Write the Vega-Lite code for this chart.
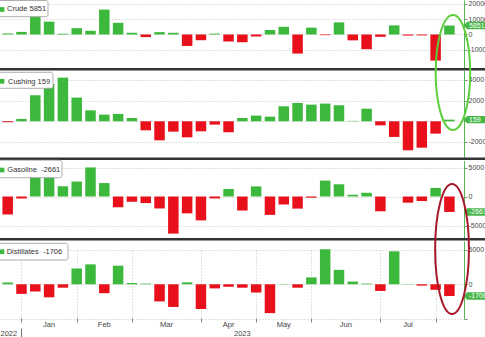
{
  "$schema": "https://vega.github.io/schema/vega-lite/v6.json",
  "width": 464,
  "height": 318,
  "autosize": {"type": "none"},
  "padding": {"left": 0, "top": 0, "right": 21, "bottom": 19},
  "background": "white",
  "config": {
    "font": "Liberation Sans",
    "view": {"stroke": null}
  },
  "datasets": {
    "eia": [
      {"week": "2022-12-23", "crude": 718, "cushing": -100, "gasoline": -3100, "distillates": 250},
      {"week": "2022-12-30", "crude": 1694, "cushing": 230, "gasoline": -346, "distillates": -1400},
      {"week": "2023-01-06", "crude": 18961, "cushing": 2510, "gasoline": 4114, "distillates": -1069},
      {"week": "2023-01-13", "crude": 8408, "cushing": 3600, "gasoline": 3483, "distillates": -1900},
      {"week": "2023-01-20", "crude": 533, "cushing": 4220, "gasoline": 1763, "distillates": -500},
      {"week": "2023-01-27", "crude": 4140, "cushing": 2290, "gasoline": 2576, "distillates": 2300},
      {"week": "2023-02-03", "crude": 2423, "cushing": 1060, "gasoline": 5008, "distillates": 2900},
      {"week": "2023-02-10", "crude": 16283, "cushing": 645, "gasoline": 2316, "distillates": -1300},
      {"week": "2023-02-17", "crude": 7648, "cushing": 710, "gasoline": -1856, "distillates": 2700},
      {"week": "2023-02-24", "crude": 1166, "cushing": 320, "gasoline": -913, "distillates": 180},
      {"week": "2023-03-03", "crude": -1694, "cushing": -870, "gasoline": -1134, "distillates": 100},
      {"week": "2023-03-10", "crude": 1550, "cushing": -1840, "gasoline": -2061, "distillates": -2500},
      {"week": "2023-03-17", "crude": 1117, "cushing": -1000, "gasoline": -6399, "distillates": -3300},
      {"week": "2023-03-24", "crude": -7489, "cushing": -1550, "gasoline": -2904, "distillates": 281},
      {"week": "2023-03-31", "crude": -3739, "cushing": -970, "gasoline": -4119, "distillates": -3600},
      {"week": "2023-04-07", "crude": 597, "cushing": -320, "gasoline": -330, "distillates": -600},
      {"week": "2023-04-14", "crude": -4581, "cushing": -1060, "gasoline": 1299, "distillates": -360},
      {"week": "2023-04-21", "crude": -5054, "cushing": 320, "gasoline": -2421, "distillates": -500},
      {"week": "2023-04-28", "crude": -1280, "cushing": 550, "gasoline": 1741, "distillates": -1200},
      {"week": "2023-05-05", "crude": 2951, "cushing": 450, "gasoline": -3168, "distillates": -4200},
      {"week": "2023-05-12", "crude": 5040, "cushing": 1450, "gasoline": -1381, "distillates": 40},
      {"week": "2023-05-19", "crude": -12456, "cushing": 1770, "gasoline": -2087, "distillates": -500},
      {"week": "2023-05-26", "crude": 4489, "cushing": 1610, "gasoline": -207, "distillates": 1000},
      {"week": "2023-06-02", "crude": -451, "cushing": 1710, "gasoline": 2745, "distillates": 5100},
      {"week": "2023-06-09", "crude": 7919, "cushing": 1550, "gasoline": 2108, "distillates": 2100},
      {"week": "2023-06-16", "crude": -3831, "cushing": 40, "gasoline": 305, "distillates": 400},
      {"week": "2023-06-23", "crude": -9603, "cushing": 1220, "gasoline": 644, "distillates": 100},
      {"week": "2023-06-30", "crude": -1508, "cushing": -390, "gasoline": -2546, "distillates": -970},
      {"week": "2023-07-07", "crude": 5946, "cushing": -1510, "gasoline": -3, "distillates": 4800},
      {"week": "2023-07-14", "crude": -708, "cushing": -2800, "gasoline": -1066, "distillates": 50},
      {"week": "2023-07-21", "crude": -600, "cushing": -2550, "gasoline": -786, "distillates": -200},
      {"week": "2023-07-28", "crude": -17049, "cushing": -1190, "gasoline": 1480, "distillates": -800},
      {"week": "2023-08-04", "crude": 5851, "cushing": 159, "gasoline": -2661, "distillates": -1706}
    ]
  },
  "data": {"name": "eia"},
  "layer": [
    {
      "layer": [
        {
          "mark": {"type": "bar", "width": 10.5},
          "encoding": {
            "x": {"field": "week", "type": "temporal", "scale": {"domain": [{"year": 2022, "month": 12, "date": 19, "hours": 2, "minutes": 24, "utc": true}, {"year": 2023, "month": 8, "date": 11, "hours": 9, "minutes": 36, "utc": true}], "nice": false, "padding": 0}},
            "y": {"field": "crude", "type": "quantitative", "scale": {"domain": [-21900, 22550], "range": [68, 0], "nice": false},
              "axis": {"title": null, "orient": "right", "values": [20000, 10000, 0, -10000], "labelExpr": "'' + datum.value", "grid": true, "gridColor": "#c4c4c4", "gridDash": [1, 2], "domainColor": "#55b855", "tickColor": "#888888", "tickSize": 3, "labelPadding": 1, "labelFontSize": 7, "labelColor": "#444444"}},
            "y2": {"datum": 0},
            "color": {"condition": {"test": "datum.crude < 0", "value": "#e8101a"}, "value": "#3cb83c"}
          }
        },
        {
          "transform": [{"filter": "time(toDate(datum.week)) > time(datetime(2023, 6, 31))"}],
          "mark": {"type": "rule", "color": "#333333", "strokeWidth": 2.5},
          "encoding": {
            "x": {"datum": {"year": 2022, "month": 12, "date": 19, "hours": 2, "minutes": 24, "utc": true}, "type": "temporal", "scale": {"domain": [{"year": 2022, "month": 12, "date": 19, "hours": 2, "minutes": 24, "utc": true}, {"year": 2023, "month": 8, "date": 11, "hours": 9, "minutes": 36, "utc": true}], "nice": false, "padding": 0}},
            "x2": {"datum": {"year": 2023, "month": 8, "date": 25, "utc": true}},
            "y": {"datum": -22680, "type": "quantitative", "scale": {"domain": [-21900, 22550], "range": [68, 0], "nice": false}}
          }
        },
        {
          "transform": [{"filter": "time(toDate(datum.week)) > time(datetime(2023, 6, 31))"}],
          "mark": {"type": "rect", "fill": "white", "stroke": "#9a9a9a", "strokeWidth": 0.8, "cornerRadius": 2, "xOffset": -4, "x2Offset": 48, "yOffset": 0.5, "y2Offset": 16.7},
          "encoding": {
            "x": {"datum": {"year": 2022, "month": 12, "date": 19, "hours": 2, "minutes": 24, "utc": true}, "type": "temporal", "scale": {"domain": [{"year": 2022, "month": 12, "date": 19, "hours": 2, "minutes": 24, "utc": true}, {"year": 2023, "month": 8, "date": 11, "hours": 9, "minutes": 36, "utc": true}], "nice": false, "padding": 0}},
            "x2": {"datum": {"year": 2022, "month": 12, "date": 19, "hours": 2, "minutes": 24, "utc": true}},
            "y": {"datum": 22550, "type": "quantitative", "scale": {"domain": [-21900, 22550], "range": [68, 0], "nice": false}},
            "y2": {"datum": 22550}
          }
        },
        {
          "transform": [{"filter": "time(toDate(datum.week)) > time(datetime(2023, 6, 31))"}],
          "mark": {"type": "square", "size": 22, "color": "#3cb83c", "opacity": 1, "xOffset": 2, "yOffset": 9.5},
          "encoding": {
            "x": {"datum": {"year": 2022, "month": 12, "date": 19, "hours": 2, "minutes": 24, "utc": true}, "type": "temporal", "scale": {"domain": [{"year": 2022, "month": 12, "date": 19, "hours": 2, "minutes": 24, "utc": true}, {"year": 2023, "month": 8, "date": 11, "hours": 9, "minutes": 36, "utc": true}], "nice": false, "padding": 0}},
            "y": {"datum": 22550, "type": "quantitative", "scale": {"domain": [-21900, 22550], "range": [68, 0], "nice": false}}
          }
        },
        {
          "transform": [{"filter": "time(toDate(datum.week)) > time(datetime(2023, 6, 31))"}, {"calculate": "'Crude ' + datum.crude", "as": "lbl"}],
          "mark": {"type": "text", "align": "left", "baseline": "middle", "dx": 7, "dy": 9.3, "fontSize": 7.5, "color": "#333333"},
          "encoding": {
            "x": {"datum": {"year": 2022, "month": 12, "date": 19, "hours": 2, "minutes": 24, "utc": true}, "type": "temporal", "scale": {"domain": [{"year": 2022, "month": 12, "date": 19, "hours": 2, "minutes": 24, "utc": true}, {"year": 2023, "month": 8, "date": 11, "hours": 9, "minutes": 36, "utc": true}], "nice": false, "padding": 0}},
            "y": {"datum": 22550, "type": "quantitative", "scale": {"domain": [-21900, 22550], "range": [68, 0], "nice": false}},
            "text": {"field": "lbl", "type": "nominal"}
          }
        },
        {
          "transform": [{"filter": "time(toDate(datum.week)) > time(datetime(2023, 6, 31))"}],
          "mark": {"type": "point", "shape": "M0,0L0.3,-0.37L3,-0.37L3,0.37L0.3,0.37Z", "size": 400, "filled": true, "color": "#46b646", "opacity": 1},
          "encoding": {
            "x": {"datum": {"year": 2023, "month": 8, "date": 11, "hours": 9, "minutes": 36, "utc": true}, "type": "temporal", "scale": {"domain": [{"year": 2022, "month": 12, "date": 19, "hours": 2, "minutes": 24, "utc": true}, {"year": 2023, "month": 8, "date": 11, "hours": 9, "minutes": 36, "utc": true}], "nice": false, "padding": 0}},
            "y": {"field": "crude", "type": "quantitative", "scale": {"domain": [-21900, 22550], "range": [68, 0], "nice": false}}
          }
        },
        {
          "transform": [{"filter": "time(toDate(datum.week)) > time(datetime(2023, 6, 31))"}],
          "mark": {"type": "text", "align": "left", "baseline": "middle", "dx": 5, "fontSize": 7, "color": "white"},
          "encoding": {
            "x": {"datum": {"year": 2023, "month": 8, "date": 11, "hours": 9, "minutes": 36, "utc": true}, "type": "temporal", "scale": {"domain": [{"year": 2022, "month": 12, "date": 19, "hours": 2, "minutes": 24, "utc": true}, {"year": 2023, "month": 8, "date": 11, "hours": 9, "minutes": 36, "utc": true}], "nice": false, "padding": 0}},
            "y": {"field": "crude", "type": "quantitative", "scale": {"domain": [-21900, 22550], "range": [68, 0], "nice": false}},
            "text": {"field": "crude", "type": "nominal"}
          }
        }
      ]
    },
    {
      "layer": [
        {
          "mark": {"type": "bar", "width": 10.5},
          "encoding": {
            "x": {"field": "week", "type": "temporal", "scale": {"domain": [{"year": 2022, "month": 12, "date": 19, "hours": 2, "minutes": 24, "utc": true}, {"year": 2023, "month": 8, "date": 11, "hours": 9, "minutes": 36, "utc": true}], "nice": false, "padding": 0}},
            "y": {"field": "cushing", "type": "quantitative", "scale": {"domain": [-3498, 4908], "range": [157.5, 70.5], "nice": false},
              "axis": {"title": null, "orient": "right", "values": [4000, 2000, 0, -2000], "labelExpr": "datum.value == 0 ? '' : '' + datum.value", "grid": true, "gridColor": "#c4c4c4", "gridDash": [1, 2], "domainColor": "#55b855", "tickColor": "#888888", "tickSize": 3, "labelPadding": 1, "labelFontSize": 7, "labelColor": "#444444"}},
            "y2": {"datum": 0},
            "color": {"condition": {"test": "datum.cushing < 0", "value": "#e8101a"}, "value": "#3cb83c"}
          }
        },
        {
          "transform": [{"filter": "time(toDate(datum.week)) > time(datetime(2023, 6, 31))"}],
          "mark": {"type": "rule", "color": "#333333", "strokeWidth": 2.5},
          "encoding": {
            "x": {"datum": {"year": 2022, "month": 12, "date": 19, "hours": 2, "minutes": 24, "utc": true}, "type": "temporal", "scale": {"domain": [{"year": 2022, "month": 12, "date": 19, "hours": 2, "minutes": 24, "utc": true}, {"year": 2023, "month": 8, "date": 11, "hours": 9, "minutes": 36, "utc": true}], "nice": false, "padding": 0}},
            "x2": {"datum": {"year": 2023, "month": 8, "date": 25, "utc": true}},
            "y": {"datum": -3614, "type": "quantitative", "scale": {"domain": [-3498, 4908], "range": [157.5, 70.5], "nice": false}}
          }
        },
        {
          "transform": [{"filter": "time(toDate(datum.week)) > time(datetime(2023, 6, 31))"}],
          "mark": {"type": "rect", "fill": "white", "stroke": "#9a9a9a", "strokeWidth": 0.8, "cornerRadius": 2, "xOffset": -4, "x2Offset": 53, "yOffset": 1.8, "y2Offset": 17.8},
          "encoding": {
            "x": {"datum": {"year": 2022, "month": 12, "date": 19, "hours": 2, "minutes": 24, "utc": true}, "type": "temporal", "scale": {"domain": [{"year": 2022, "month": 12, "date": 19, "hours": 2, "minutes": 24, "utc": true}, {"year": 2023, "month": 8, "date": 11, "hours": 9, "minutes": 36, "utc": true}], "nice": false, "padding": 0}},
            "x2": {"datum": {"year": 2022, "month": 12, "date": 19, "hours": 2, "minutes": 24, "utc": true}},
            "y": {"datum": 4908, "type": "quantitative", "scale": {"domain": [-3498, 4908], "range": [157.5, 70.5], "nice": false}},
            "y2": {"datum": 4908}
          }
        },
        {
          "transform": [{"filter": "time(toDate(datum.week)) > time(datetime(2023, 6, 31))"}],
          "mark": {"type": "square", "size": 22, "color": "#3cb83c", "opacity": 1, "xOffset": 2, "yOffset": 10.8},
          "encoding": {
            "x": {"datum": {"year": 2022, "month": 12, "date": 19, "hours": 2, "minutes": 24, "utc": true}, "type": "temporal", "scale": {"domain": [{"year": 2022, "month": 12, "date": 19, "hours": 2, "minutes": 24, "utc": true}, {"year": 2023, "month": 8, "date": 11, "hours": 9, "minutes": 36, "utc": true}], "nice": false, "padding": 0}},
            "y": {"datum": 4908, "type": "quantitative", "scale": {"domain": [-3498, 4908], "range": [157.5, 70.5], "nice": false}}
          }
        },
        {
          "transform": [{"filter": "time(toDate(datum.week)) > time(datetime(2023, 6, 31))"}, {"calculate": "'Cushing ' + datum.cushing", "as": "lbl"}],
          "mark": {"type": "text", "align": "left", "baseline": "middle", "dx": 8, "dy": 11.2, "fontSize": 7.5, "color": "#333333"},
          "encoding": {
            "x": {"datum": {"year": 2022, "month": 12, "date": 19, "hours": 2, "minutes": 24, "utc": true}, "type": "temporal", "scale": {"domain": [{"year": 2022, "month": 12, "date": 19, "hours": 2, "minutes": 24, "utc": true}, {"year": 2023, "month": 8, "date": 11, "hours": 9, "minutes": 36, "utc": true}], "nice": false, "padding": 0}},
            "y": {"datum": 4908, "type": "quantitative", "scale": {"domain": [-3498, 4908], "range": [157.5, 70.5], "nice": false}},
            "text": {"field": "lbl", "type": "nominal"}
          }
        },
        {
          "transform": [{"filter": "time(toDate(datum.week)) > time(datetime(2023, 6, 31))"}],
          "mark": {"type": "point", "shape": "M0,0L0.3,-0.37L3,-0.37L3,0.37L0.3,0.37Z", "size": 400, "filled": true, "color": "#46b646", "opacity": 1},
          "encoding": {
            "x": {"datum": {"year": 2023, "month": 8, "date": 11, "hours": 9, "minutes": 36, "utc": true}, "type": "temporal", "scale": {"domain": [{"year": 2022, "month": 12, "date": 19, "hours": 2, "minutes": 24, "utc": true}, {"year": 2023, "month": 8, "date": 11, "hours": 9, "minutes": 36, "utc": true}], "nice": false, "padding": 0}},
            "y": {"field": "cushing", "type": "quantitative", "scale": {"domain": [-3498, 4908], "range": [157.5, 70.5], "nice": false}}
          }
        },
        {
          "transform": [{"filter": "time(toDate(datum.week)) > time(datetime(2023, 6, 31))"}],
          "mark": {"type": "text", "align": "left", "baseline": "middle", "dx": 5, "fontSize": 7, "color": "white"},
          "encoding": {
            "x": {"datum": {"year": 2023, "month": 8, "date": 11, "hours": 9, "minutes": 36, "utc": true}, "type": "temporal", "scale": {"domain": [{"year": 2022, "month": 12, "date": 19, "hours": 2, "minutes": 24, "utc": true}, {"year": 2023, "month": 8, "date": 11, "hours": 9, "minutes": 36, "utc": true}], "nice": false, "padding": 0}},
            "y": {"field": "cushing", "type": "quantitative", "scale": {"domain": [-3498, 4908], "range": [157.5, 70.5], "nice": false}},
            "text": {"field": "cushing", "type": "nominal"}
          }
        },
        {
          "transform": [{"filter": "time(toDate(datum.week)) > time(datetime(2023, 6, 31))"}],
          "mark": {"type": "point", "shape": "M0,-1C0.166,-1,0.3,-0.552,0.3,0C0.3,0.552,0.166,1,0,1C-0.166,1,-0.3,0.552,-0.3,0C-0.3,-0.552,-0.166,-1,0,-1Z", "size": 13225, "filled": false, "color": "#5ecf3c", "strokeWidth": 2, "opacity": 1},
          "encoding": {
            "x": {"datum": {"year": 2023, "month": 8, "date": 5, "hours": 19, "utc": true}, "type": "temporal", "scale": {"domain": [{"year": 2022, "month": 12, "date": 19, "hours": 2, "minutes": 24, "utc": true}, {"year": 2023, "month": 8, "date": 11, "hours": 9, "minutes": 36, "utc": true}], "nice": false, "padding": 0}},
            "y": {"datum": 4715, "type": "quantitative", "scale": {"domain": [-3498, 4908], "range": [157.5, 70.5], "nice": false}}
          }
        }
      ]
    },
    {
      "layer": [
        {
          "mark": {"type": "bar", "width": 10.5},
          "encoding": {
            "x": {"field": "week", "type": "temporal", "scale": {"domain": [{"year": 2022, "month": 12, "date": 19, "hours": 2, "minutes": 24, "utc": true}, {"year": 2023, "month": 8, "date": 11, "hours": 9, "minutes": 36, "utc": true}], "nice": false, "padding": 0}},
            "y": {"field": "gasoline", "type": "quantitative", "scale": {"domain": [-7155, 6207], "range": [238, 160.5], "nice": false},
              "axis": {"title": null, "orient": "right", "values": [5000, 0, -5000], "labelExpr": "'' + datum.value", "grid": true, "gridColor": "#c4c4c4", "gridDash": [1, 2], "domainColor": "#55b855", "tickColor": "#888888", "tickSize": 3, "labelPadding": 1, "labelFontSize": 7, "labelColor": "#444444"}},
            "y2": {"datum": 0},
            "color": {"condition": {"test": "datum.gasoline < 0", "value": "#e8101a"}, "value": "#3cb83c"}
          }
        },
        {
          "transform": [{"filter": "time(toDate(datum.week)) > time(datetime(2023, 6, 31))"}],
          "mark": {"type": "rule", "color": "#333333", "strokeWidth": 2.5},
          "encoding": {
            "x": {"datum": {"year": 2022, "month": 12, "date": 19, "hours": 2, "minutes": 24, "utc": true}, "type": "temporal", "scale": {"domain": [{"year": 2022, "month": 12, "date": 19, "hours": 2, "minutes": 24, "utc": true}, {"year": 2023, "month": 8, "date": 11, "hours": 9, "minutes": 36, "utc": true}], "nice": false, "padding": 0}},
            "x2": {"datum": {"year": 2023, "month": 8, "date": 25, "utc": true}},
            "y": {"datum": -7379, "type": "quantitative", "scale": {"domain": [-7155, 6207], "range": [238, 160.5], "nice": false}}
          }
        },
        {
          "transform": [{"filter": "time(toDate(datum.week)) > time(datetime(2023, 6, 31))"}],
          "mark": {"type": "rect", "fill": "white", "stroke": "#9a9a9a", "strokeWidth": 0.8, "cornerRadius": 2, "xOffset": -4, "x2Offset": 62, "yOffset": -0.3, "y2Offset": 17.2},
          "encoding": {
            "x": {"datum": {"year": 2022, "month": 12, "date": 19, "hours": 2, "minutes": 24, "utc": true}, "type": "temporal", "scale": {"domain": [{"year": 2022, "month": 12, "date": 19, "hours": 2, "minutes": 24, "utc": true}, {"year": 2023, "month": 8, "date": 11, "hours": 9, "minutes": 36, "utc": true}], "nice": false, "padding": 0}},
            "x2": {"datum": {"year": 2022, "month": 12, "date": 19, "hours": 2, "minutes": 24, "utc": true}},
            "y": {"datum": 6207, "type": "quantitative", "scale": {"domain": [-7155, 6207], "range": [238, 160.5], "nice": false}},
            "y2": {"datum": 6207}
          }
        },
        {
          "transform": [{"filter": "time(toDate(datum.week)) > time(datetime(2023, 6, 31))"}],
          "mark": {"type": "square", "size": 22, "color": "#3cb83c", "opacity": 1, "xOffset": 2, "yOffset": 9.5},
          "encoding": {
            "x": {"datum": {"year": 2022, "month": 12, "date": 19, "hours": 2, "minutes": 24, "utc": true}, "type": "temporal", "scale": {"domain": [{"year": 2022, "month": 12, "date": 19, "hours": 2, "minutes": 24, "utc": true}, {"year": 2023, "month": 8, "date": 11, "hours": 9, "minutes": 36, "utc": true}], "nice": false, "padding": 0}},
            "y": {"datum": 6207, "type": "quantitative", "scale": {"domain": [-7155, 6207], "range": [238, 160.5], "nice": false}}
          }
        },
        {
          "transform": [{"filter": "time(toDate(datum.week)) > time(datetime(2023, 6, 31))"}, {"calculate": "'Gasoline\u00a0 ' + datum.gasoline", "as": "lbl"}],
          "mark": {"type": "text", "align": "left", "baseline": "middle", "dx": 7.3, "dy": 9.5, "fontSize": 7.5, "color": "#333333"},
          "encoding": {
            "x": {"datum": {"year": 2022, "month": 12, "date": 19, "hours": 2, "minutes": 24, "utc": true}, "type": "temporal", "scale": {"domain": [{"year": 2022, "month": 12, "date": 19, "hours": 2, "minutes": 24, "utc": true}, {"year": 2023, "month": 8, "date": 11, "hours": 9, "minutes": 36, "utc": true}], "nice": false, "padding": 0}},
            "y": {"datum": 6207, "type": "quantitative", "scale": {"domain": [-7155, 6207], "range": [238, 160.5], "nice": false}},
            "text": {"field": "lbl", "type": "nominal"}
          }
        },
        {
          "transform": [{"filter": "time(toDate(datum.week)) > time(datetime(2023, 6, 31))"}],
          "mark": {"type": "point", "shape": "M0,0L0.3,-0.37L3,-0.37L3,0.37L0.3,0.37Z", "size": 400, "filled": true, "color": "#46b646", "opacity": 1},
          "encoding": {
            "x": {"datum": {"year": 2023, "month": 8, "date": 11, "hours": 9, "minutes": 36, "utc": true}, "type": "temporal", "scale": {"domain": [{"year": 2022, "month": 12, "date": 19, "hours": 2, "minutes": 24, "utc": true}, {"year": 2023, "month": 8, "date": 11, "hours": 9, "minutes": 36, "utc": true}], "nice": false, "padding": 0}},
            "y": {"field": "gasoline", "type": "quantitative", "scale": {"domain": [-7155, 6207], "range": [238, 160.5], "nice": false}}
          }
        },
        {
          "transform": [{"filter": "time(toDate(datum.week)) > time(datetime(2023, 6, 31))"}],
          "mark": {"type": "text", "align": "left", "baseline": "middle", "dx": 5, "fontSize": 7, "color": "white"},
          "encoding": {
            "x": {"datum": {"year": 2023, "month": 8, "date": 11, "hours": 9, "minutes": 36, "utc": true}, "type": "temporal", "scale": {"domain": [{"year": 2022, "month": 12, "date": 19, "hours": 2, "minutes": 24, "utc": true}, {"year": 2023, "month": 8, "date": 11, "hours": 9, "minutes": 36, "utc": true}], "nice": false, "padding": 0}},
            "y": {"field": "gasoline", "type": "quantitative", "scale": {"domain": [-7155, 6207], "range": [238, 160.5], "nice": false}},
            "text": {"field": "gasoline", "type": "nominal"}
          }
        }
      ]
    },
    {
      "layer": [
        {
          "mark": {"type": "bar", "width": 10.5},
          "encoding": {
            "x": {"field": "week", "type": "temporal", "scale": {"domain": [{"year": 2022, "month": 12, "date": 19, "hours": 2, "minutes": 24, "utc": true}, {"year": 2023, "month": 8, "date": 11, "hours": 9, "minutes": 36, "utc": true}], "nice": false, "padding": 0},
              "axis": {"title": null, "orient": "bottom", "domain": false, "grid": true, "gridColor": "#c4c4c4", "gridDash": [1, 2], "ticks": true, "tickSize": 4, "tickColor": "#888888", "labels": false,
                "values": [{"year": 2022, "month": 12, "date": 30, "utc": true}, {"year": 2023, "month": 1, "date": 27, "utc": true}, {"year": 2023, "month": 2, "date": 24, "utc": true}, {"year": 2023, "month": 3, "date": 31, "utc": true}, {"year": 2023, "month": 4, "date": 28, "utc": true}, {"year": 2023, "month": 5, "date": 26, "utc": true}, {"year": 2023, "month": 6, "date": 30, "utc": true}, {"year": 2023, "month": 7, "date": 28, "utc": true}]}},
            "y": {"field": "distillates", "type": "quantitative", "scale": {"domain": [-5000, 6303], "range": [318.6, 241], "nice": false},
              "axis": {"title": null, "orient": "right", "values": [5000, 0, -5000], "labelExpr": "datum.value == -5000 ? '' : '' + datum.value", "grid": true, "gridColor": "#c4c4c4", "gridDash": [1, 2], "domainColor": "#55b855", "tickColor": "#888888", "tickSize": 3, "labelPadding": 1, "labelFontSize": 7, "labelColor": "#444444"}},
            "y2": {"datum": 0},
            "color": {"condition": {"test": "datum.distillates < 0", "value": "#e8101a"}, "value": "#3cb83c"}
          }
        },
        {
          "transform": [{"filter": "time(toDate(datum.week)) > time(datetime(2023, 6, 31))"}],
          "mark": {"type": "rect", "fill": "white", "stroke": "#9a9a9a", "strokeWidth": 0.8, "cornerRadius": 2, "xOffset": -4, "x2Offset": 68, "yOffset": 2.3, "y2Offset": 19},
          "encoding": {
            "x": {"datum": {"year": 2022, "month": 12, "date": 19, "hours": 2, "minutes": 24, "utc": true}, "type": "temporal", "scale": {"domain": [{"year": 2022, "month": 12, "date": 19, "hours": 2, "minutes": 24, "utc": true}, {"year": 2023, "month": 8, "date": 11, "hours": 9, "minutes": 36, "utc": true}], "nice": false, "padding": 0}},
            "x2": {"datum": {"year": 2022, "month": 12, "date": 19, "hours": 2, "minutes": 24, "utc": true}},
            "y": {"datum": 6303, "type": "quantitative", "scale": {"domain": [-5000, 6303], "range": [318.6, 241], "nice": false}},
            "y2": {"datum": 6303}
          }
        },
        {
          "transform": [{"filter": "time(toDate(datum.week)) > time(datetime(2023, 6, 31))"}],
          "mark": {"type": "square", "size": 22, "color": "#3cb83c", "opacity": 1, "xOffset": 2, "yOffset": 10.7},
          "encoding": {
            "x": {"datum": {"year": 2022, "month": 12, "date": 19, "hours": 2, "minutes": 24, "utc": true}, "type": "temporal", "scale": {"domain": [{"year": 2022, "month": 12, "date": 19, "hours": 2, "minutes": 24, "utc": true}, {"year": 2023, "month": 8, "date": 11, "hours": 9, "minutes": 36, "utc": true}], "nice": false, "padding": 0}},
            "y": {"datum": 6303, "type": "quantitative", "scale": {"domain": [-5000, 6303], "range": [318.6, 241], "nice": false}}
          }
        },
        {
          "transform": [{"filter": "time(toDate(datum.week)) > time(datetime(2023, 6, 31))"}, {"calculate": "'Distillates\u00a0 ' + datum.distillates", "as": "lbl"}],
          "mark": {"type": "text", "align": "left", "baseline": "middle", "dx": 6.7, "dy": 10.7, "fontSize": 7.5, "color": "#333333"},
          "encoding": {
            "x": {"datum": {"year": 2022, "month": 12, "date": 19, "hours": 2, "minutes": 24, "utc": true}, "type": "temporal", "scale": {"domain": [{"year": 2022, "month": 12, "date": 19, "hours": 2, "minutes": 24, "utc": true}, {"year": 2023, "month": 8, "date": 11, "hours": 9, "minutes": 36, "utc": true}], "nice": false, "padding": 0}},
            "y": {"datum": 6303, "type": "quantitative", "scale": {"domain": [-5000, 6303], "range": [318.6, 241], "nice": false}},
            "text": {"field": "lbl", "type": "nominal"}
          }
        },
        {
          "transform": [{"filter": "time(toDate(datum.week)) > time(datetime(2023, 6, 31))"}],
          "mark": {"type": "point", "shape": "M0,0L0.3,-0.37L3,-0.37L3,0.37L0.3,0.37Z", "size": 400, "filled": true, "color": "#46b646", "opacity": 1},
          "encoding": {
            "x": {"datum": {"year": 2023, "month": 8, "date": 11, "hours": 9, "minutes": 36, "utc": true}, "type": "temporal", "scale": {"domain": [{"year": 2022, "month": 12, "date": 19, "hours": 2, "minutes": 24, "utc": true}, {"year": 2023, "month": 8, "date": 11, "hours": 9, "minutes": 36, "utc": true}], "nice": false, "padding": 0}},
            "y": {"field": "distillates", "type": "quantitative", "scale": {"domain": [-5000, 6303], "range": [318.6, 241], "nice": false}}
          }
        },
        {
          "transform": [{"filter": "time(toDate(datum.week)) > time(datetime(2023, 6, 31))"}],
          "mark": {"type": "text", "align": "left", "baseline": "middle", "dx": 5, "fontSize": 7, "color": "white"},
          "encoding": {
            "x": {"datum": {"year": 2023, "month": 8, "date": 11, "hours": 9, "minutes": 36, "utc": true}, "type": "temporal", "scale": {"domain": [{"year": 2022, "month": 12, "date": 19, "hours": 2, "minutes": 24, "utc": true}, {"year": 2023, "month": 8, "date": 11, "hours": 9, "minutes": 36, "utc": true}], "nice": false, "padding": 0}},
            "y": {"field": "distillates", "type": "quantitative", "scale": {"domain": [-5000, 6303], "range": [318.6, 241], "nice": false}},
            "text": {"field": "distillates", "type": "nominal"}
          }
        },
        {
          "transform": [{"filter": "time(toDate(datum.week)) > time(datetime(2023, 6, 31))"}],
          "mark": {"type": "rule", "color": "#777777", "strokeWidth": 1},
          "encoding": {
            "x": {"datum": {"year": 2022, "month": 12, "date": 30, "utc": true}, "type": "temporal", "scale": {"domain": [{"year": 2022, "month": 12, "date": 19, "hours": 2, "minutes": 24, "utc": true}, {"year": 2023, "month": 8, "date": 11, "hours": 9, "minutes": 36, "utc": true}], "nice": false, "padding": 0}},
            "y": {"datum": -6450, "type": "quantitative", "scale": {"domain": [-5000, 6303], "range": [318.6, 241], "nice": false}},
            "y2": {"datum": -7800}
          }
        },
        {
          "transform": [{"filter": "time(toDate(datum.week)) > time(datetime(2023, 6, 31))"}],
          "mark": {"type": "text", "align": "center", "baseline": "middle", "fontSize": 7.5, "color": "#444444", "text": "Jan"},
          "encoding": {
            "x": {"datum": {"year": 2023, "month": 1, "date": 13, "utc": true}, "type": "temporal", "scale": {"domain": [{"year": 2022, "month": 12, "date": 19, "hours": 2, "minutes": 24, "utc": true}, {"year": 2023, "month": 8, "date": 11, "hours": 9, "minutes": 36, "utc": true}], "nice": false, "padding": 0}},
            "y": {"datum": -5928, "type": "quantitative", "scale": {"domain": [-5000, 6303], "range": [318.6, 241], "nice": false}}
          }
        },
        {
          "transform": [{"filter": "time(toDate(datum.week)) > time(datetime(2023, 6, 31))"}],
          "mark": {"type": "text", "align": "center", "baseline": "middle", "fontSize": 7.5, "color": "#444444", "text": "Feb"},
          "encoding": {
            "x": {"datum": {"year": 2023, "month": 2, "date": 10, "utc": true}, "type": "temporal", "scale": {"domain": [{"year": 2022, "month": 12, "date": 19, "hours": 2, "minutes": 24, "utc": true}, {"year": 2023, "month": 8, "date": 11, "hours": 9, "minutes": 36, "utc": true}], "nice": false, "padding": 0}},
            "y": {"datum": -5928, "type": "quantitative", "scale": {"domain": [-5000, 6303], "range": [318.6, 241], "nice": false}}
          }
        },
        {
          "transform": [{"filter": "time(toDate(datum.week)) > time(datetime(2023, 6, 31))"}],
          "mark": {"type": "text", "align": "center", "baseline": "middle", "fontSize": 7.5, "color": "#444444", "text": "Mar"},
          "encoding": {
            "x": {"datum": {"year": 2023, "month": 3, "date": 13, "hours": 12, "utc": true}, "type": "temporal", "scale": {"domain": [{"year": 2022, "month": 12, "date": 19, "hours": 2, "minutes": 24, "utc": true}, {"year": 2023, "month": 8, "date": 11, "hours": 9, "minutes": 36, "utc": true}], "nice": false, "padding": 0}},
            "y": {"datum": -5928, "type": "quantitative", "scale": {"domain": [-5000, 6303], "range": [318.6, 241], "nice": false}}
          }
        },
        {
          "transform": [{"filter": "time(toDate(datum.week)) > time(datetime(2023, 6, 31))"}],
          "mark": {"type": "text", "align": "center", "baseline": "middle", "fontSize": 7.5, "color": "#444444", "text": "Apr"},
          "encoding": {
            "x": {"datum": {"year": 2023, "month": 4, "date": 14, "utc": true}, "type": "temporal", "scale": {"domain": [{"year": 2022, "month": 12, "date": 19, "hours": 2, "minutes": 24, "utc": true}, {"year": 2023, "month": 8, "date": 11, "hours": 9, "minutes": 36, "utc": true}], "nice": false, "padding": 0}},
            "y": {"datum": -5928, "type": "quantitative", "scale": {"domain": [-5000, 6303], "range": [318.6, 241], "nice": false}}
          }
        },
        {
          "transform": [{"filter": "time(toDate(datum.week)) > time(datetime(2023, 6, 31))"}],
          "mark": {"type": "text", "align": "center", "baseline": "middle", "fontSize": 7.5, "color": "#444444", "text": "May"},
          "encoding": {
            "x": {"datum": {"year": 2023, "month": 5, "date": 12, "utc": true}, "type": "temporal", "scale": {"domain": [{"year": 2022, "month": 12, "date": 19, "hours": 2, "minutes": 24, "utc": true}, {"year": 2023, "month": 8, "date": 11, "hours": 9, "minutes": 36, "utc": true}], "nice": false, "padding": 0}},
            "y": {"datum": -5928, "type": "quantitative", "scale": {"domain": [-5000, 6303], "range": [318.6, 241], "nice": false}}
          }
        },
        {
          "transform": [{"filter": "time(toDate(datum.week)) > time(datetime(2023, 6, 31))"}],
          "mark": {"type": "text", "align": "center", "baseline": "middle", "fontSize": 7.5, "color": "#444444", "text": "Jun"},
          "encoding": {
            "x": {"datum": {"year": 2023, "month": 6, "date": 12, "hours": 12, "utc": true}, "type": "temporal", "scale": {"domain": [{"year": 2022, "month": 12, "date": 19, "hours": 2, "minutes": 24, "utc": true}, {"year": 2023, "month": 8, "date": 11, "hours": 9, "minutes": 36, "utc": true}], "nice": false, "padding": 0}},
            "y": {"datum": -5928, "type": "quantitative", "scale": {"domain": [-5000, 6303], "range": [318.6, 241], "nice": false}}
          }
        },
        {
          "transform": [{"filter": "time(toDate(datum.week)) > time(datetime(2023, 6, 31))"}],
          "mark": {"type": "text", "align": "center", "baseline": "middle", "fontSize": 7.5, "color": "#444444", "text": "Jul"},
          "encoding": {
            "x": {"datum": {"year": 2023, "month": 7, "date": 14, "utc": true}, "type": "temporal", "scale": {"domain": [{"year": 2022, "month": 12, "date": 19, "hours": 2, "minutes": 24, "utc": true}, {"year": 2023, "month": 8, "date": 11, "hours": 9, "minutes": 36, "utc": true}], "nice": false, "padding": 0}},
            "y": {"datum": -5928, "type": "quantitative", "scale": {"domain": [-5000, 6303], "range": [318.6, 241], "nice": false}}
          }
        },
        {
          "transform": [{"filter": "time(toDate(datum.week)) > time(datetime(2023, 6, 31))"}],
          "mark": {"type": "text", "align": "left", "baseline": "middle", "fontSize": 7.5, "color": "#444444", "text": "2022", "dx": 0.5},
          "encoding": {
            "x": {"datum": {"year": 2022, "month": 12, "date": 19, "hours": 2, "minutes": 24, "utc": true}, "type": "temporal", "scale": {"domain": [{"year": 2022, "month": 12, "date": 19, "hours": 2, "minutes": 24, "utc": true}, {"year": 2023, "month": 8, "date": 11, "hours": 9, "minutes": 36, "utc": true}], "nice": false, "padding": 0}},
            "y": {"datum": -7282, "type": "quantitative", "scale": {"domain": [-5000, 6303], "range": [318.6, 241], "nice": false}}
          }
        },
        {
          "transform": [{"filter": "time(toDate(datum.week)) > time(datetime(2023, 6, 31))"}],
          "mark": {"type": "text", "align": "center", "baseline": "middle", "fontSize": 7.5, "color": "#444444", "text": "2023"},
          "encoding": {
            "x": {"datum": {"year": 2023, "month": 4, "date": 21, "utc": true}, "type": "temporal", "scale": {"domain": [{"year": 2022, "month": 12, "date": 19, "hours": 2, "minutes": 24, "utc": true}, {"year": 2023, "month": 8, "date": 11, "hours": 9, "minutes": 36, "utc": true}], "nice": false, "padding": 0}},
            "y": {"datum": -7282, "type": "quantitative", "scale": {"domain": [-5000, 6303], "range": [318.6, 241], "nice": false}}
          }
        },
        {
          "transform": [{"filter": "time(toDate(datum.week)) > time(datetime(2023, 6, 31))"}],
          "mark": {"type": "point", "shape": "M0,-1C0.144,-1,0.26,-0.552,0.26,0C0.26,0.552,0.144,1,0,1C-0.144,1,-0.26,0.552,-0.26,0C-0.26,-0.552,-0.144,-1,0,-1Z", "size": 16900, "filled": false, "color": "#a8182c", "strokeWidth": 2, "opacity": 1},
          "encoding": {
            "x": {"datum": {"year": 2023, "month": 8, "date": 5, "hours": 8, "utc": true}, "type": "temporal", "scale": {"domain": [{"year": 2022, "month": 12, "date": 19, "hours": 2, "minutes": 24, "utc": true}, {"year": 2023, "month": 8, "date": 11, "hours": 9, "minutes": 36, "utc": true}], "nice": false, "padding": 0}},
            "y": {"datum": 5138, "type": "quantitative", "scale": {"domain": [-5000, 6303], "range": [318.6, 241], "nice": false}}
          }
        }
      ]
    }
  ],
  "resolve": {"scale": {"y": "independent"}}
}
